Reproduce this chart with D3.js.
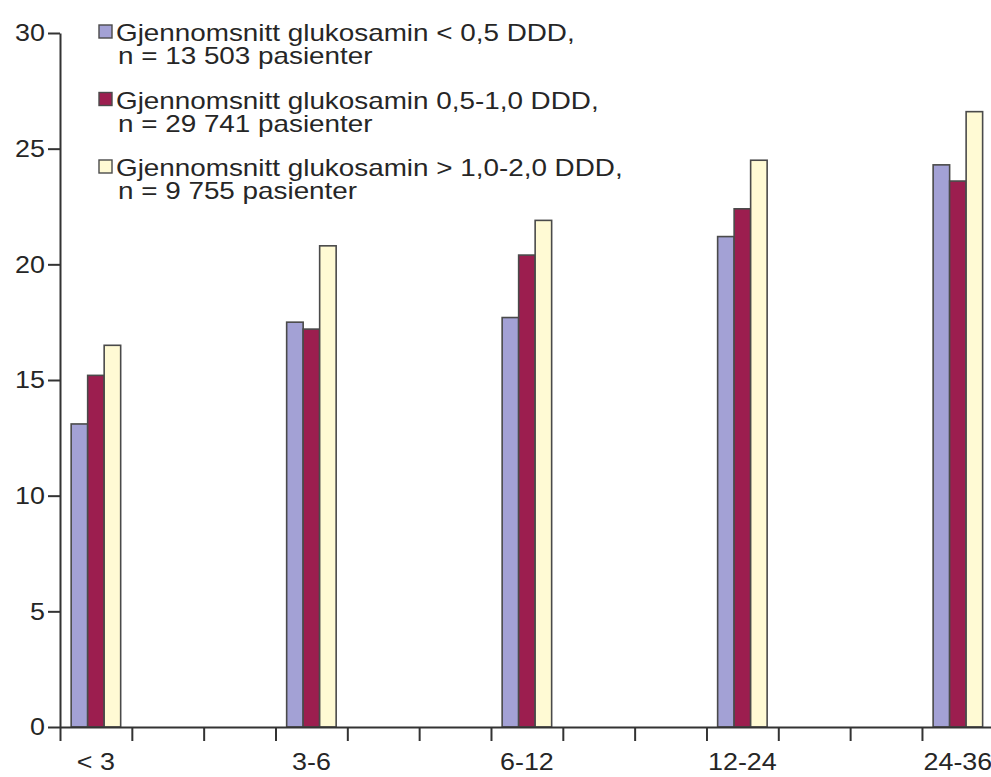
<!DOCTYPE html>
<html>
<head>
<meta charset="utf-8">
<script src="https://cdn.jsdelivr.net/npm/d3@7"></script>
<style>
  body { margin: 0; background: #ffffff; }
  svg text { font-family: "Liberation Sans", Arial, Helvetica, sans-serif; fill: #262626; }
</style>
</head>
<body>
<svg id="chart" width="991" height="777"></svg>
<script>
// Treatment duration groups (months)
const categories = ["< 3", "3-6", "6-12", "12-24", "24-36"];

// Series labels (two lines each)
const seriesNames = [
  "Gjennomsnitt glukosamin < 0,5 DDD,",
  "Gjennomsnitt glukosamin 0,5-1,0 DDD,",
  "Gjennomsnitt glukosamin > 1,0-2,0 DDD,"
];
const seriesCounts = [
  "n = 13 503 pasienter",
  "n = 29 741 pasienter",
  "n = 9 755 pasienter"
];

// Values per duration group
const lowDose  = [13.1, 17.5, 17.7, 21.2, 24.3];
const midDose  = [15.2, 17.2, 20.4, 22.4, 23.6];
const highDose = [16.5, 20.8, 21.9, 24.5, 26.6];

const yTicks = [0, 5, 10, 15, 20, 25, 30];

const seriesValues = [lowDose, midDose, highDose];
const seriesColors = ["#a3a1d5", "#9c1e4f", "#fffad4"];

const svg = d3.select("#chart");
const axisColor = "#333333";
const barStroke = "#4a4a4a";

// Type is set slightly wide
const axisFont = 24, axisStretch = 1.12;
const legendFont = 24, legendStretch = 1.16;

// Vertical scale
const y = d3.scaleLinear().domain([0, 30]).range([727, 33]);

// Horizontal axis runs in evenly spaced tick units; each duration group spans three
const xUnit = d3.scaleLinear().domain([0, 13]).range([60, 60 + 13 * 71.83]);
const groupCenter = i => xUnit(3 * i + 0.5);

// Bars within a group
const barWidth = 16.5;
const inner = d3.scaleBand()
  .domain(d3.range(seriesValues.length))
  .range([-1.5 * barWidth, 1.5 * barWidth]);

const bars = svg.append("g");
seriesValues.forEach((vals, s) => {
  bars.selectAll(null)
    .data(vals)
    .join("rect")
    .attr("x", (d, i) => groupCenter(i) + inner(s))
    .attr("y", d => y(d))
    .attr("width", inner.bandwidth())
    .attr("height", d => y(0) - y(d))
    .attr("fill", seriesColors[s])
    .attr("stroke", barStroke)
    .attr("stroke-width", 1.6);
});

// X axis: plain ticks, no labels
const xAxis = svg.append("g")
  .attr("transform", `translate(0,${y(0)})`)
  .call(d3.axisBottom(xUnit).tickValues(d3.range(0, 14)).tickSize(14).tickSizeOuter(0).tickFormat(""));
xAxis.selectAll("path, line").attr("stroke", axisColor).attr("stroke-width", 2);

// Category labels under the groups
svg.append("g").selectAll("text")
  .data(categories)
  .join("text")
  .attr("transform", (d, i) => `translate(${groupCenter(i)},770) scale(${axisStretch},1)`)
  .attr("text-anchor", "middle")
  .attr("font-size", axisFont)
  .text(d => d);

// Y axis
const yAxis = svg.append("g")
  .attr("transform", `translate(${xUnit(0)},0)`)
  .call(d3.axisLeft(y).tickValues(yTicks).tickSize(12).tickSizeOuter(0).tickPadding(3));
yAxis.selectAll("path, line").attr("stroke", axisColor).attr("stroke-width", 2);
yAxis.selectAll("text")
  .attr("x", -15 / axisStretch)
  .attr("transform", `scale(${axisStretch},1)`)
  .attr("font-size", axisFont)
  .attr("fill", "#262626")
  .attr("font-family", "\"Liberation Sans\", Arial, sans-serif");

// Legend: swatch plus a two-line label
const legend = svg.append("g");
seriesNames.forEach((name, s) => {
  const base = 41 + s * 67.5;
  legend.append("rect")
    .attr("x", 99)
    .attr("y", base - 16)
    .attr("width", 13)
    .attr("height", 13)
    .attr("fill", seriesColors[s])
    .attr("stroke", barStroke)
    .attr("stroke-width", 1.4);
  const label = legend.append("text")
    .attr("transform", `translate(116,${base}) scale(${legendStretch},1)`)
    .attr("font-size", legendFont);
  label.append("tspan").attr("x", 0).attr("y", 0).text(name);
  label.append("tspan").attr("x", 2 / legendStretch).attr("y", 23.5).text(seriesCounts[s]);
});
</script>
</body>
</html>
